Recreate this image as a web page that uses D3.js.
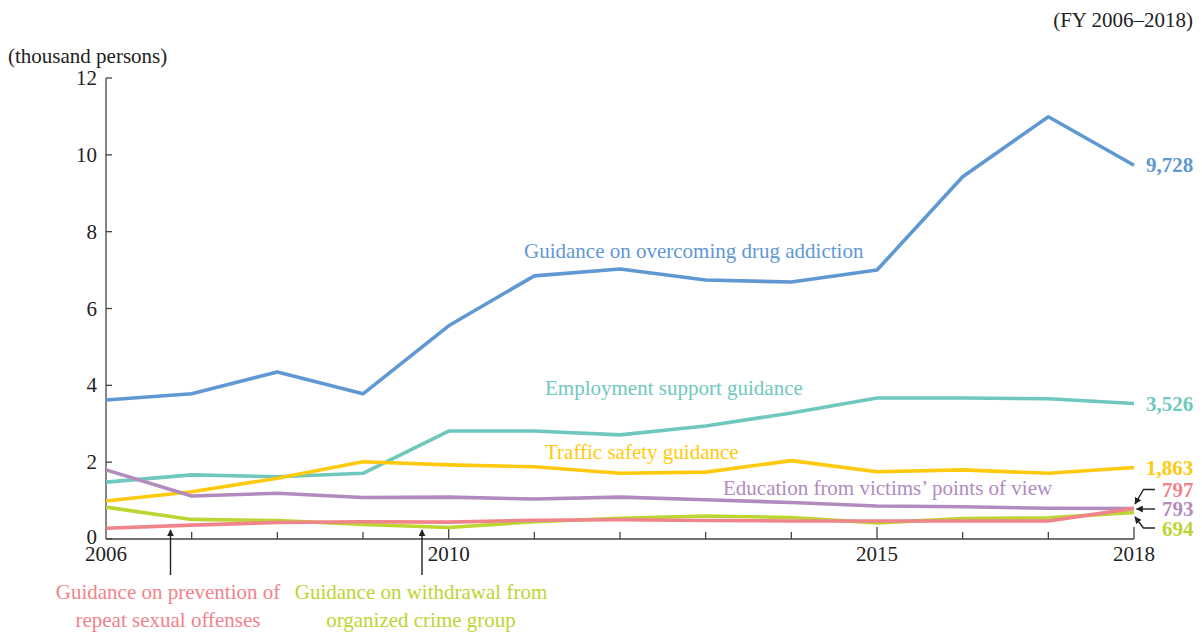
<!DOCTYPE html>
<html>
<head>
<meta charset="utf-8">
<title>Guidance programmes FY 2006-2018</title>
<script src="https://cdn.jsdelivr.net/npm/d3@7"></script>
<style>
  body { margin: 0; background: #fff; }
  svg text { font-family: "Liberation Serif", "DejaVu Serif", serif; }
</style>
</head>
<body>
<svg id="chart"></svg>
<script>
// data (thousand persons)
var years = [2006, 2007, 2008, 2009, 2010, 2011, 2012, 2013, 2014, 2015, 2016, 2017, 2018];
var drugAddiction = [3.62, 3.78, 4.35, 3.78, 5.55, 6.85, 7.03, 6.74, 6.69, 7.0, 9.43, 10.99, 9.728];
var employment = [1.48, 1.67, 1.62, 1.71, 2.81, 2.81, 2.71, 2.94, 3.28, 3.67, 3.67, 3.65, 3.526];
var trafficSafety = [0.99, 1.23, 1.58, 2.01, 1.93, 1.88, 1.71, 1.74, 2.04, 1.75, 1.80, 1.71, 1.863];
var victimsView = [1.80, 1.12, 1.19, 1.08, 1.09, 1.04, 1.09, 1.02, 0.95, 0.86, 0.84, 0.80, 0.793];
var organizedCrime = [0.83, 0.51, 0.48, 0.38, 0.30, 0.45, 0.54, 0.60, 0.56, 0.42, 0.53, 0.55, 0.694];
var sexualOffenses = [0.28, 0.36, 0.43, 0.45, 0.44, 0.49, 0.50, 0.48, 0.47, 0.47, 0.47, 0.47, 0.797];
var yTicks = [0, 2, 4, 6, 8, 10, 12];
var xLabels = [2006, 2010, 2015, 2018];
var endLabels = ["9,728", "3,526", "1,863", "793", "694", "797"];

var series = [
  { values: drugAddiction, color: "#5f98d2" },
  { values: employment, color: "#6fc8bd" },
  { values: trafficSafety, color: "#ffc90e" },
  { values: victimsView, color: "#b18bbf" },
  { values: organizedCrime, color: "#bcd533" },
  { values: sexualOffenses, color: "#f1838a" }
];

var width = 1202, height = 633;
var svg = d3.select("#chart").attr("width", width).attr("height", height);

var x = d3.scaleLinear().domain([2006, 2018]).range([106, 1134]);
var y = d3.scaleLinear().domain([0, 12]).range([539, 78]);

var axisColor = "#444";
var fs = 21;

// y axis
svg.append("line").attr("x1", x(2006)).attr("x2", x(2006))
  .attr("y1", y(0)).attr("y2", y(12)).attr("stroke", axisColor).attr("stroke-width", 1.3);
yTicks.forEach(function (t) {
  svg.append("line").attr("x1", x(2006)).attr("x2", x(2006) + 6)
    .attr("y1", y(t)).attr("y2", y(t)).attr("stroke", axisColor).attr("stroke-width", 1.3);
  svg.append("text").attr("x", 97).attr("y", y(t) + 7 - (t === 0 ? 2 : 0))
    .attr("text-anchor", "end").attr("font-size", fs).attr("fill", "#222").text(t);
});

// x axis
svg.append("line").attr("x1", x(2006)).attr("x2", x(2018))
  .attr("y1", y(0)).attr("y2", y(0)).attr("stroke", axisColor).attr("stroke-width", 1.3);
years.forEach(function (yr) {
  if (yr === 2006) return;
  var major = xLabels.indexOf(yr) >= 0;
  svg.append("line").attr("x1", x(yr)).attr("x2", x(yr))
    .attr("y1", y(0)).attr("y2", y(0) - (major ? 12 : 7))
    .attr("stroke", axisColor).attr("stroke-width", 1.3);
});
xLabels.forEach(function (yr) {
  svg.append("text").attr("x", x(yr)).attr("y", 561)
    .attr("text-anchor", "middle").attr("font-size", fs).attr("fill", "#222").text(yr);
});

svg.append("text").attr("x", 8).attr("y", 63).attr("font-size", fs).attr("fill", "#222")
  .text("(thousand persons)");
svg.append("text").attr("x", 1193).attr("y", 27).attr("text-anchor", "end")
  .attr("font-size", fs).attr("fill", "#222").text("(FY 2006\u20132018)");

// lines
var line = d3.line()
  .x(function (d, i) { return x(years[i]); })
  .y(function (d) { return y(d); });

series.forEach(function (s) {
  svg.append("path").datum(s.values)
    .attr("d", line).attr("fill", "none")
    .attr("stroke", s.color).attr("stroke-width", 3.6)
    .attr("stroke-linejoin", "round");
});

// series labels
function label(txt, lx, ly, color, anchor) {
  return svg.append("text").attr("x", lx).attr("y", ly).attr("font-size", fs)
    .attr("fill", color).attr("text-anchor", anchor || "start").text(txt);
}
label("Guidance on overcoming drug addiction", 524, 258, series[0].color);
label("Employment support guidance", 545, 395, series[1].color);
label("Traffic safety guidance", 545, 459, series[2].color);
label("Education from victims\u2019 points of view", 723, 495, series[3].color);
label("Guidance on prevention of", 168, 599, series[5].color, "middle");
label("repeat sexual offenses", 168, 627, series[5].color, "middle");
label("Guidance on withdrawal from", 421, 599, series[4].color, "middle");
label("organized crime group", 421, 627, series[4].color, "middle");

// end value labels
var endY = [172, 411, 475, 516, 536, 497];
var endX = [1146, 1146, 1146, 1162, 1162, 1162];
[0, 1, 2, 3, 4, 5].forEach(function (i) {
  svg.append("text").attr("x", endX[i]).attr("y", endY[i])
    .attr("font-size", fs).attr("font-weight", "bold")
    .attr("fill", series[i].color).text(endLabels[i]);
});

// arrows
var defs = svg.append("defs");
defs.append("marker").attr("id", "arr").attr("viewBox", "0 0 10 10")
  .attr("refX", 9).attr("refY", 5).attr("markerWidth", 7).attr("markerHeight", 7)
  .attr("markerUnits", "userSpaceOnUse").attr("orient", "auto")
  .append("path").attr("d", "M0,0 L10,5 L0,10 z").attr("fill", "#222");

function arrow(points) {
  svg.append("path").attr("d", d3.line()(points)).attr("fill", "none")
    .attr("stroke", "#222").attr("stroke-width", 1.4).attr("marker-end", "url(#arr)");
}
arrow([[170.5, 575], [170.5, 530]]);
arrow([[422, 575], [422, 530]]);
arrow([[1155, 489.5], [1143.5, 489.5], [1135, 504]]);
arrow([[1155, 509], [1136.5, 509]]);
arrow([[1155, 528], [1143.5, 528], [1135, 517]]);
</script>
</body>
</html>
